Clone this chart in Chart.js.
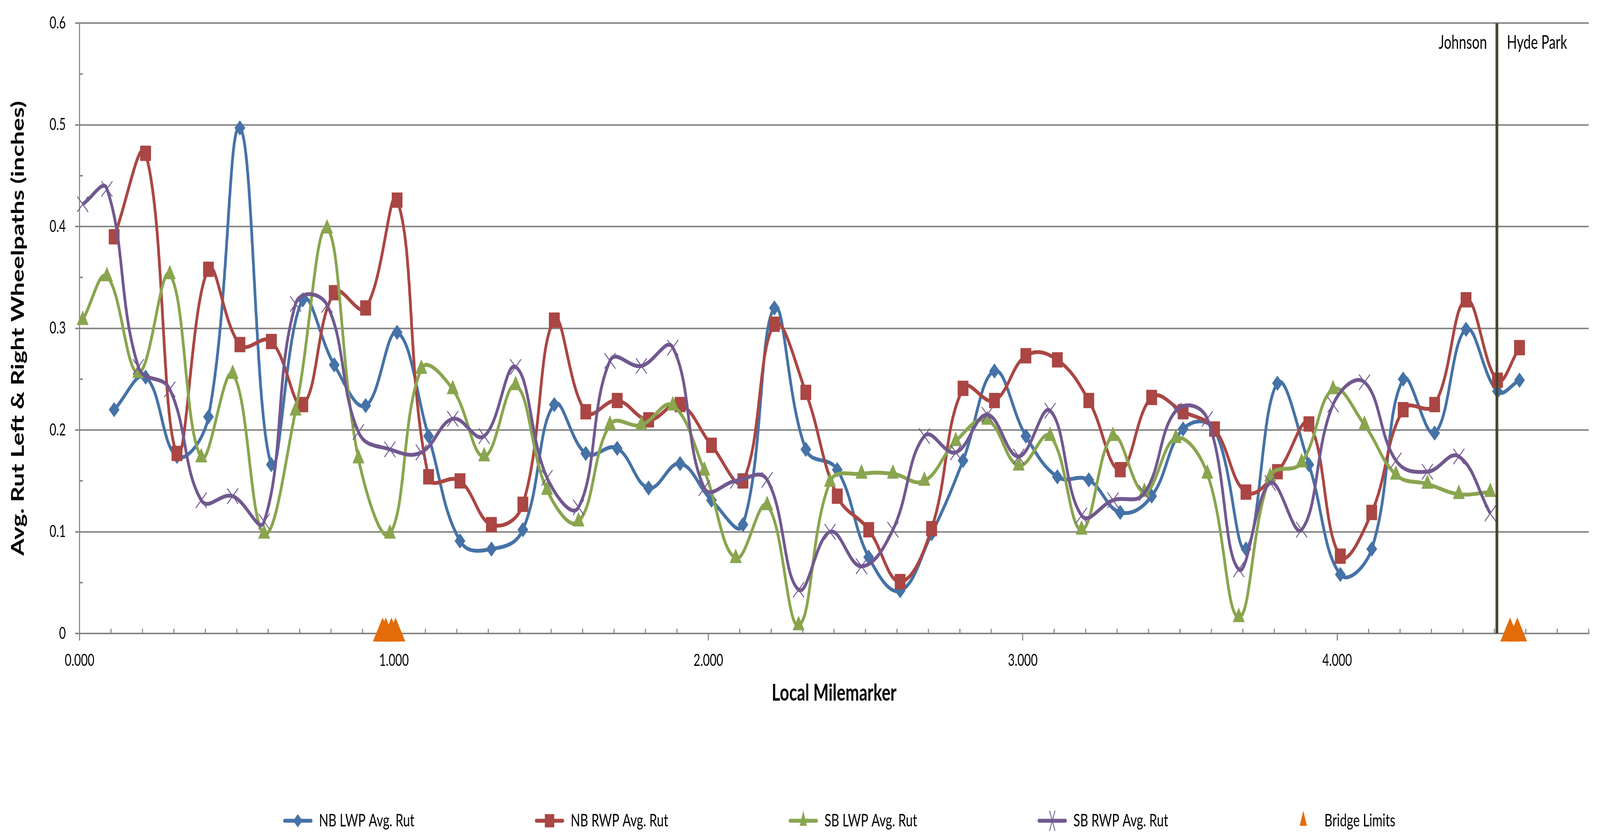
<!DOCTYPE html>
<html>
<head>
<meta charset="utf-8">
<script src="https://cdn.jsdelivr.net/npm/chart.js@4.4.1/dist/chart.umd.min.js"></script>
<style>
html, body { margin: 0; padding: 0; background: #ffffff; overflow: hidden; }
#chart { display: block; width: 100vw; height: 100vh; }
</style>
</head>
<body>
<canvas id="chart" width="5792" height="2138" style="width:100vw;height:100vh;"></canvas>
<script>
// ---------- DATA ----------
const nbMile = [0.11, 0.21, 0.31, 0.41, 0.51, 0.61, 0.71, 0.81, 0.91, 1.01,
                1.11, 1.21, 1.31, 1.41, 1.51, 1.61, 1.71, 1.81, 1.91, 2.01,
                2.11, 2.21, 2.31, 2.41, 2.51, 2.61, 2.71, 2.81, 2.91, 3.01,
                3.11, 3.21, 3.31, 3.41, 3.51, 3.61, 3.71, 3.81, 3.91, 4.01,
                4.11, 4.21, 4.31, 4.41, 4.51, 4.58];
const nbLwpRut = [0.220, 0.252, 0.174, 0.213, 0.497, 0.166, 0.328, 0.264, 0.224, 0.296,
                  0.194, 0.091, 0.083, 0.102, 0.225, 0.177, 0.182, 0.143, 0.167, 0.131,
                  0.107, 0.320, 0.181, 0.161, 0.075, 0.042, 0.098, 0.170, 0.258, 0.194,
                  0.154, 0.151, 0.119, 0.135, 0.201, 0.200, 0.083, 0.246, 0.166, 0.058,
                  0.083, 0.250, 0.197, 0.299, 0.238, 0.249];
const nbRwpRut = [0.390, 0.472, 0.177, 0.358, 0.284, 0.287, 0.225, 0.335, 0.320, 0.426,
                  0.154, 0.150, 0.107, 0.127, 0.308, 0.218, 0.229, 0.210, 0.225, 0.185,
                  0.150, 0.304, 0.237, 0.135, 0.102, 0.051, 0.103, 0.241, 0.229, 0.273,
                  0.269, 0.229, 0.161, 0.232, 0.218, 0.201, 0.139, 0.159, 0.206, 0.076,
                  0.119, 0.220, 0.225, 0.328, 0.249, 0.281];
const sbMile = [0.010, 0.087, 0.187, 0.287, 0.387, 0.487, 0.587, 0.687, 0.787, 0.887,
                0.987, 1.087, 1.187, 1.287, 1.387, 1.487, 1.587, 1.687, 1.787, 1.887,
                1.987, 2.087, 2.187, 2.287, 2.387, 2.487, 2.587, 2.687, 2.787, 2.887,
                2.987, 3.087, 3.187, 3.287, 3.387, 3.487, 3.587, 3.687, 3.787, 3.887,
                3.987, 4.087, 4.187, 4.287, 4.387, 4.487];
const sbLwpRut = [0.308, 0.351, 0.256, 0.353, 0.173, 0.255, 0.098, 0.219, 0.398, 0.172,
                  0.098, 0.260, 0.240, 0.174, 0.244, 0.141, 0.110, 0.205, 0.205, 0.224,
                  0.160, 0.074, 0.126, 0.008, 0.149, 0.157, 0.157, 0.150, 0.189, 0.210,
                  0.165, 0.194, 0.102, 0.194, 0.139, 0.192, 0.157, 0.016, 0.154, 0.168,
                  0.240, 0.205, 0.156, 0.147, 0.137, 0.139];
const sbRwpRut = [0.422, 0.437, 0.262, 0.240, 0.131, 0.135, 0.110, 0.324, 0.323, 0.198,
                  0.181, 0.178, 0.211, 0.194, 0.262, 0.153, 0.124, 0.268, 0.263, 0.281,
                  0.143, 0.150, 0.151, 0.043, 0.100, 0.066, 0.102, 0.194, 0.178, 0.215,
                  0.174, 0.219, 0.116, 0.131, 0.138, 0.219, 0.211, 0.063, 0.148, 0.102,
                  0.225, 0.247, 0.170, 0.159, 0.174, 0.118];
const bridgeMile = [0.964, 0.974, 0.992, 1.005, 4.550, 4.573];
const bridgeRut  = [0, 0, 0, 0, 0, 0];
const dividerMile = [4.508, 4.508];
const dividerRut  = [0, 0.6];
const regionNames = ['Johnson', 'Hyde Park'];
const seriesNames = ['NB LWP Avg. Rut', 'NB RWP Avg. Rut', 'SB LWP Avg. Rut', 'SB RWP Avg. Rut', 'Bridge Limits'];
const xAxisTitle = 'Local Milemarker';
const yAxisTitle = 'Avg. Rut Left & Right Wheelpaths (inches)';

// ---------- STYLE ----------
const FONT = "Lato, 'Liberation Sans', sans-serif";
const AXIS_GRAY = '#878787';
const C_BLUE = '#4572A7', C_RED = '#AA4643', C_GREEN = '#89A54E', C_PURPLE = '#71588F', C_ORANGE = '#E36C09', C_DIV = '#4A452A';

function pts(xs, ys) { return xs.map((x, i) => ({ x: x, y: ys[i] })); }

Chart.defaults.font.family = FONT;
Chart.defaults.color = '#000000';

// legend swatch: line + marker at the right end of a transparent box
const LEG_W = 420, LEG_H = 60, LEG_SEG = 108, LEG_PAD = 123;
function legendIcon(color, marker, withLine) {
  const c = document.createElement('canvas');
  c.width = LEG_W; c.height = LEG_H;
  const g = c.getContext('2d');
  const cy = LEG_H / 2, x0 = LEG_W - LEG_SEG, cx = LEG_W - LEG_SEG / 2;
  g.strokeStyle = color; g.fillStyle = color;
  if (withLine) {
    g.lineWidth = 10; g.lineCap = 'round';
    g.beginPath(); g.moveTo(x0 + 6, cy); g.lineTo(LEG_W - 6, cy); g.stroke();
  }
  g.beginPath();
  if (marker === 'diamond') {
    g.moveTo(cx, cy - 17); g.lineTo(cx + 17, cy); g.lineTo(cx, cy + 17); g.lineTo(cx - 17, cy); g.closePath(); g.fill();
  } else if (marker === 'square') {
    g.rect(cx - 17, cy - 17, 34, 34); g.fill();
  } else if (marker === 'triangle') {
    g.moveTo(cx, cy - 26); g.lineTo(cx + 13, cy + 13); g.lineTo(cx - 13, cy + 13); g.closePath(); g.fill();
  } else if (marker === 'x') {
    g.lineWidth = 3; g.lineCap = 'butt';
    g.moveTo(cx - 10, cy - 26); g.lineTo(cx + 10, cy + 26);
    g.moveTo(cx + 10, cy - 26); g.lineTo(cx - 10, cy + 26); g.stroke();
  }
  return c;
}

// minor inside tick marks (Excel style) + region labels
const axisDecor = {
  id: 'axisDecor',
  beforeDatasetsDraw(chart) {
    const { ctx, scales: { x, y } } = chart;
    ctx.save();
    ctx.strokeStyle = AXIS_GRAY; ctx.lineWidth = 4;
    ctx.beginPath();
    for (let k = 1; k <= 11; k += 2) {
      const py = y.getPixelForValue(k * 0.05);
      ctx.moveTo(x.left, py); ctx.lineTo(x.left + 12, py);
    }
    for (let k = 1; k <= 48; k++) {
      if (k % 10 === 0) continue;
      const px = x.getPixelForValue(k / 10);
      ctx.moveTo(px, y.bottom); ctx.lineTo(px, y.bottom - 12);
    }
    ctx.stroke();
    ctx.restore();
  },
  afterDatasetsDraw(chart) {
    const { ctx, scales: { x, y } } = chart;
    const px = x.getPixelForValue(dividerMile[0]);
    const py = y.getPixelForValue(dividerRut[1]) + 50;
    ctx.save();
    ctx.fillStyle = '#000000';
    ctx.font = '48px ' + FONT;
    ctx.textBaseline = 'middle';
    ctx.textAlign = 'right';
    ctx.fillText(regionNames[0], px - 36, py);
    ctx.textAlign = 'left';
    ctx.fillText(regionNames[1], px + 36, py);
    ctx.restore();
  }
};

const lineCommon = { showLine: true, tension: 0.4, borderWidth: 10, pointBorderWidth: 1, fill: false, clip: false };

const datasets = [
  { label: 'divider', data: pts(dividerMile, dividerRut), showLine: true, tension: 0,
    borderColor: C_DIV, borderWidth: 10, pointRadius: 0 },
  { label: seriesNames[4], data: pts(bridgeMile, bridgeRut), showLine: false, clip: false,
    pointStyle: 'triangle', pointRadius: 40, backgroundColor: C_ORANGE, borderColor: C_ORANGE, pointBorderWidth: 1 },
  Object.assign({ label: seriesNames[3], data: pts(sbMile, sbRwpRut), borderColor: C_PURPLE, backgroundColor: C_PURPLE,
    pointStyle: 'crossRot', pointRadius: 28 }, lineCommon, { pointBorderWidth: 3 }),
  Object.assign({ label: seriesNames[2], data: pts(sbMile, sbLwpRut), borderColor: C_GREEN, backgroundColor: C_GREEN,
    pointStyle: 'triangle', pointRadius: 24 }, lineCommon),
  Object.assign({ label: seriesNames[1], data: pts(nbMile, nbRwpRut), borderColor: C_RED, backgroundColor: C_RED,
    pointStyle: 'rect', pointRadius: 27 }, lineCommon),
  Object.assign({ label: seriesNames[0], data: pts(nbMile, nbLwpRut), borderColor: C_BLUE, backgroundColor: C_BLUE,
    pointStyle: 'rectRot', pointRadius: 19 }, lineCommon)
];

const legendSpec = [
  { idx: 5, color: C_BLUE, marker: 'diamond', line: true },
  { idx: 4, color: C_RED, marker: 'square', line: true },
  { idx: 3, color: C_GREEN, marker: 'triangle', line: true },
  { idx: 2, color: C_PURPLE, marker: 'x', line: true },
  { idx: 1, color: C_ORANGE, marker: 'triangle', line: false }
];

new Chart(document.getElementById('chart'), {
  type: 'scatter',
  data: { datasets: datasets },
  plugins: [axisDecor],
  options: {
    responsive: false,
    devicePixelRatio: 1,
    animation: false,
    events: [],
    layout: { padding: { top: 44, right: 29, bottom: 4, left: 0 } },
    scales: {
      x: {
        type: 'linear', position: 'bottom', min: 0, max: 4.8,
        afterFit: (s) => { s.height = 334; },
        border: { display: true, color: AXIS_GRAY, width: 4 },
        grid: { drawOnChartArea: false, drawTicks: true, tickLength: 18, color: AXIS_GRAY, lineWidth: 4 },
        ticks: { stepSize: 1, includeBounds: false, autoSkip: false, maxRotation: 0, padding: 26,
                 font: { size: 42, family: FONT }, color: '#000000',
                 callback: (v) => Number(v).toFixed(3) },
        title: { display: true, text: xAxisTitle, font: { size: 59, weight: 'bold', family: FONT }, color: '#000000',
                 padding: { top: 0, bottom: 146 } }
      },
      y: {
        type: 'linear', position: 'left', min: 0, max: 0.6,
        afterFit: (s) => { s.width = 288; },
        border: { display: true, color: AXIS_GRAY, width: 4 },
        grid: { drawOnChartArea: true, drawTicks: true, tickLength: 16, color: AXIS_GRAY, lineWidth: 4 },
        ticks: { stepSize: 0.1, padding: 34, font: { size: 42, family: FONT }, color: '#000000',
                 callback: (v) => String(Number(Number(v).toFixed(1))) },
        title: { display: true, text: yAxisTitle, font: { size: 63, weight: 'bold', family: FONT }, color: '#000000',
                 padding: { top: 28, bottom: 0 } }
      }
    },
    plugins: {
      tooltip: { enabled: false },
      legend: {
        display: true, position: 'bottom', align: 'center',
        labels: {
          usePointStyle: true, pointStyleWidth: LEG_W, padding: LEG_PAD,
          font: { size: 45, family: FONT }, color: '#000000',
          generateLabels: (chart) => legendSpec.map(s => ({
            text: chart.data.datasets[s.idx].label,
            pointStyle: legendIcon(s.color, s.marker, s.line),
            fillStyle: s.color, strokeStyle: s.color, lineWidth: 0,
            fontColor: '#000000', hidden: false, datasetIndex: s.idx
          }))
        }
      }
    }
  }
});
</script>
</body>
</html>
